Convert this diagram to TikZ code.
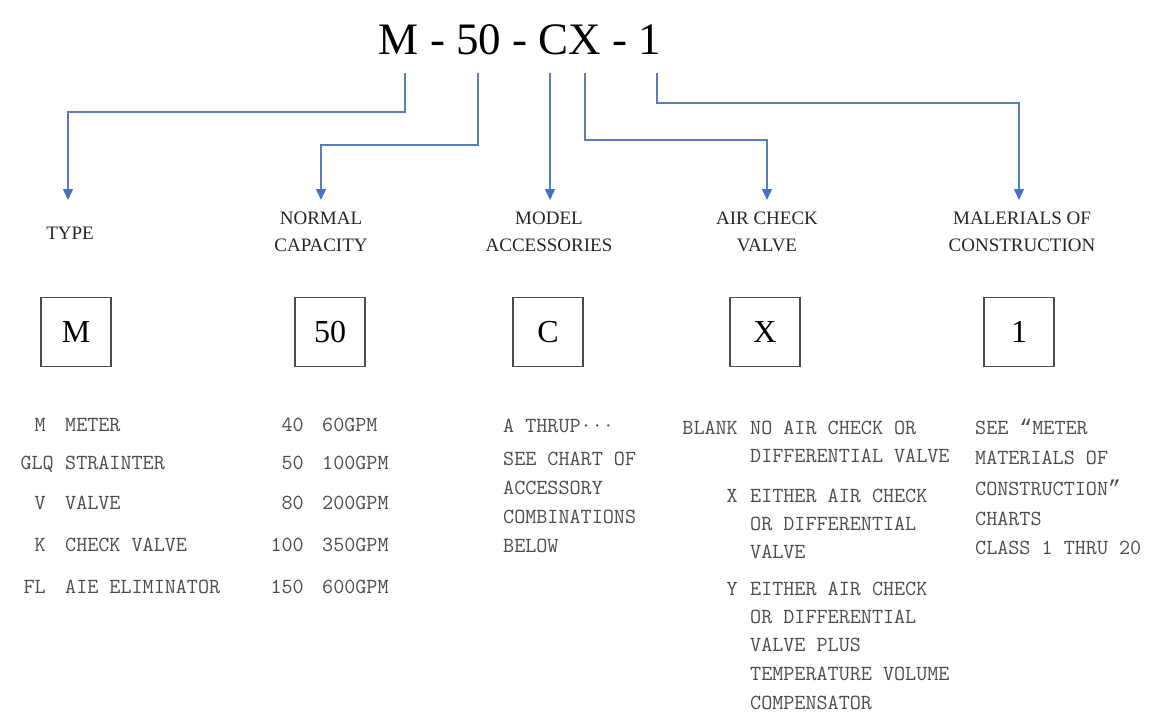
\documentclass[tikz,border=0pt]{standalone}
\usepackage{fontspec}
\setmainfont{Liberation Serif}
\newfontfamily\quotefont{Liberation Mono}
\usetikzlibrary{arrows.meta}
\definecolor{lineblue}{HTML}{5A7FB8}
\definecolor{arrowblue}{HTML}{4472C4}
\begin{document}
\begin{tikzpicture}[x=1pt,y=-1pt,
 conn/.style={draw=lineblue,line width=1.4pt,-{Triangle[width=10pt,length=11pt,fill=arrowblue,color=arrowblue]}},
 head/.style={font=\fontsize{19}{27}\selectfont,align=center,text=black!85,inner sep=0pt},
 codebox/.style={draw=black!70,line width=1.2pt,minimum width=70pt,minimum height=69pt,font=\fontsize{32}{32}\selectfont,inner sep=0pt},
 mono/.style={font=\ttfamily\fontsize{21.5}{28}\selectfont,text=black!70,inner sep=0pt,anchor=base west},
 monor/.style={mono,anchor=base east},
]
\useasboundingbox (0,0) rectangle (1152,715);
\node[font=\fontsize{45}{45}\selectfont,inner sep=0pt] (title) at (520,40) {M - 50 - CX - 1};
% connector ends
\coordinate (s1) at (405,73);
\coordinate (s2) at (478,73);
\coordinate (s3) at (550,73);
\coordinate (s4) at (585,73);
\coordinate (s5) at (657,73);
\coordinate (t1) at (68,200);
\coordinate (t2) at (321,200);
\coordinate (t3) at (550,200);
\coordinate (t4) at (767,200);
\coordinate (t5) at (1019,200);
\draw[conn] (s1) -- ++(0,39) -| (t1);
\draw[conn] (s2) -- ++(0,72) -| (t2);
\draw[conn] (s3) -- (t3);
\draw[conn] (s4) -- ++(0,67) -| (t4);
\draw[conn] (s5) -- ++(0,30) -| (t5);
% headings
\node[head] (h1) at (70,233) {TYPE};
\node[head] (h2) at (321,231.5) {NORMAL\\CAPACITY};
\node[head] (h3) at (549,231.5) {MODEL\\ACCESSORIES};
\node[head] (h4) at (767,231.5) {AIR CHECK\\VALVE};
\node[head] (h5) at (1022,231.5) {MALERIALS OF\\CONSTRUCTION};
% boxes
\node[codebox] (b1) at (76,332) {M};
\node[codebox] (b2) at (330,332) {50};
\node[codebox] (b3) at (548,332) {C};
\node[codebox] (b4) at (765,332) {X};
\node[codebox] (b5) at (1019,332) {1};
% type column
\node[monor] (c1a) at (46,431) {M};
\node[monor] (c1b) at (54,469) {GLQ};
\node[monor] (c1c) at (46,509) {V};
\node[monor] (c1d) at (46,551) {K};
\node[monor] (c1e) at (46,593) {FL};
\node[mono] (d1a) at (65,431) {METER};
\node[mono] (d1b) at (65,469) {STRAINTER};
\node[mono] (d1c) at (65,509) {VALVE};
\node[mono] (d1d) at (65,551) {CHECK VALVE};
\node[mono] (d1e) at (65,593) {AIE ELIMINATOR};
% capacity column
\node[monor] (c2a) at (304,431) {40};
\node[monor] (c2b) at (304,469) {50};
\node[monor] (c2c) at (304,509) {80};
\node[monor] (c2d) at (304,551) {100};
\node[monor] (c2e) at (304,593) {150};
\node[mono] (d2a) at (322,431) {60GPM};
\node[mono] (d2b) at (322,469) {100GPM};
\node[mono] (d2c) at (322,509) {200GPM};
\node[mono] (d2d) at (322,551) {350GPM};
\node[mono] (d2e) at (322,593) {600GPM};
% accessories column
\node[mono] (d3a) at (503,432) {A THRUP···};
\node[mono] (d3b) at (503,465) {SEE CHART OF};
\node[mono] (d3c) at (503,494) {ACCESSORY};
\node[mono] (d3d) at (503,523) {COMBINATIONS};
\node[mono] (d3e) at (503,552) {BELOW};
% air check column
\node[monor] (c4a) at (738,434) {BLANK};
\node[monor] (c4b) at (738,502) {X};
\node[monor] (c4c) at (738,595) {Y};
\node[mono] (d4a) at (750,434) {NO AIR CHECK OR};
\node[mono] (d4b) at (750,462) {DIFFERENTIAL VALVE};
\node[mono] (d4c) at (750,502) {EITHER AIR CHECK};
\node[mono] (d4d) at (750,530) {OR DIFFERENTIAL};
\node[mono] (d4e) at (750,558) {VALVE};
\node[mono] (d4f) at (750,595) {EITHER AIR CHECK};
\node[mono] (d4g) at (750,623) {OR DIFFERENTIAL};
\node[mono] (d4h) at (750,651) {VALVE PLUS};
\node[mono] (d4i) at (750,680) {TEMPERATURE VOLUME};
\node[mono] (d4j) at (750,709) {COMPENSATOR};
% materials column
\node[mono] (d5a) at (975,434) {SEE {\quotefont “}METER};
\node[mono] (d5b) at (975,464) {MATERIALS OF};
\node[mono] (d5c) at (975,495) {CONSTRUCTION{\quotefont ”}};
\node[mono] (d5d) at (975,525) {CHARTS};
\node[mono] (d5e) at (975,554) {CLASS 1 THRU 20};
\end{tikzpicture}
\end{document}
